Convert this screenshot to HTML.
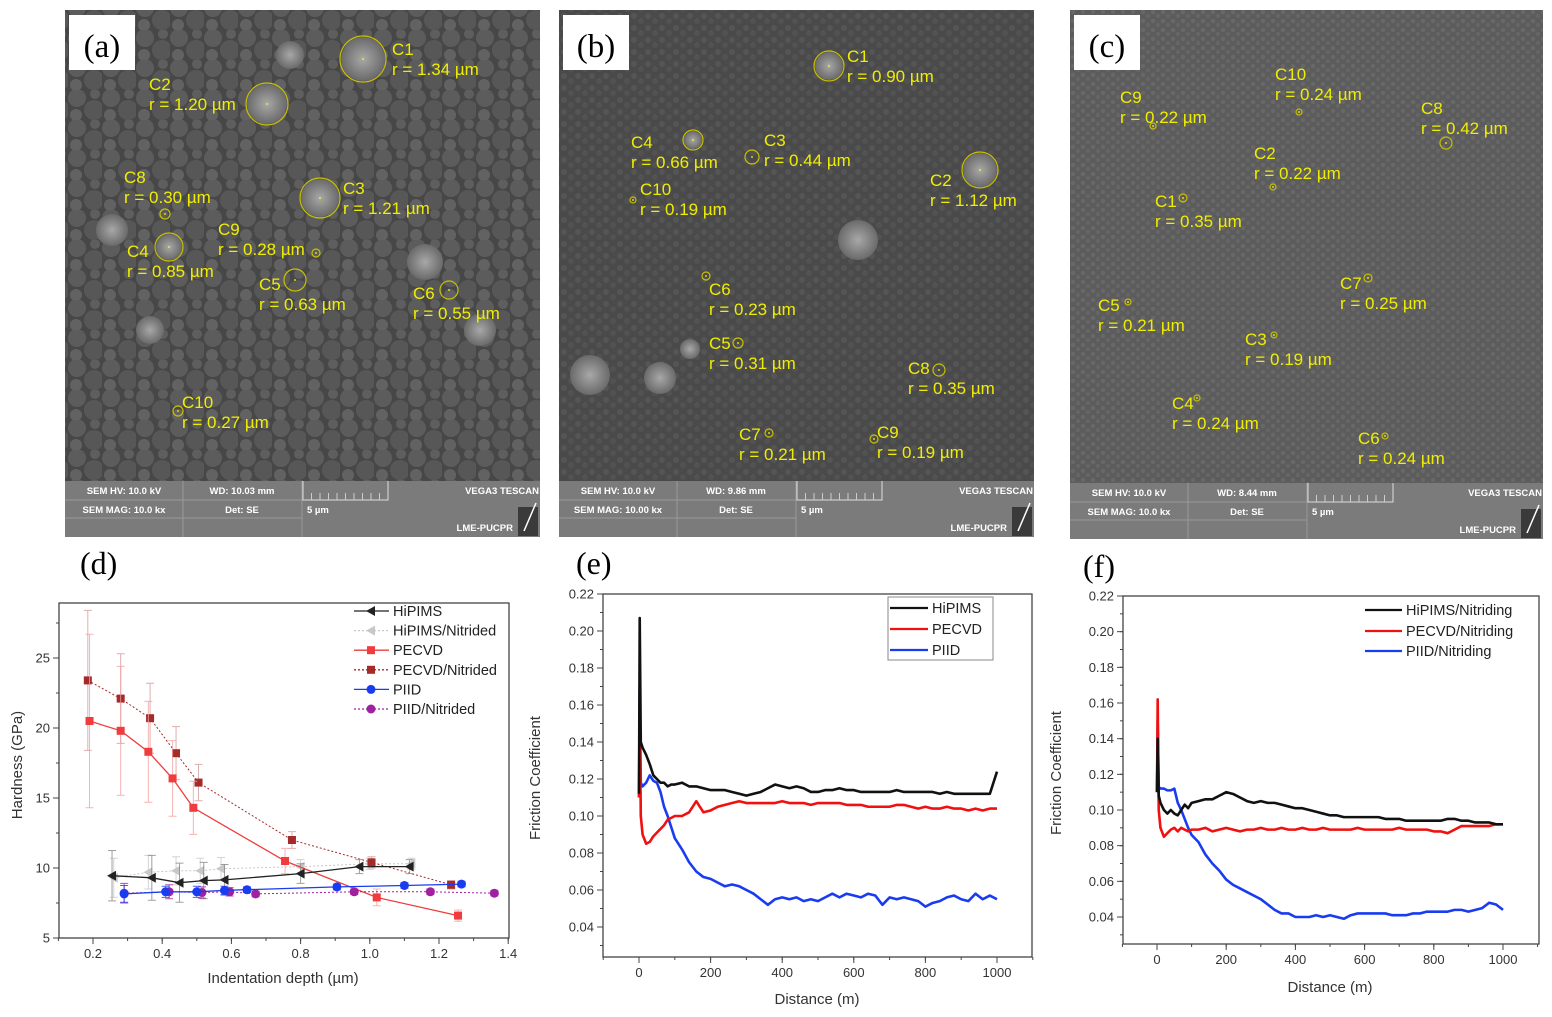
<!DOCTYPE html>
<html><head><meta charset="utf-8">
<style>
html,body{margin:0;padding:0;background:#fff;}
svg{display:block;font-family:"Liberation Sans",sans-serif;}
</style></head>
<body>
<svg id="fig" width="1552" height="1017" viewBox="0 0 1552 1017" xmlns="http://www.w3.org/2000/svg">
<defs>
<pattern id="texA" width="34" height="30" patternUnits="userSpaceOnUse">
<rect width="34" height="30" fill="#474747"/>
<circle cx="9" cy="8" r="9" fill="#5c5c5c"/><circle cx="26" cy="20" r="10" fill="#575757"/><circle cx="8" cy="25" r="6" fill="#626262"/><circle cx="27" cy="4" r="5" fill="#5e5e5e"/>
</pattern>
<pattern id="texB" width="14" height="12" patternUnits="userSpaceOnUse">
<rect width="14" height="12" fill="#4a4a4a"/><circle cx="4" cy="4" r="3" fill="#555"/><circle cx="11" cy="9" r="3" fill="#525252"/>
</pattern>
<pattern id="texC" width="10" height="9" patternUnits="userSpaceOnUse">
<rect width="10" height="9" fill="#5c5c5c"/><circle cx="3" cy="3" r="2.2" fill="#686868"/><circle cx="8" cy="7" r="2.2" fill="#656565"/>
</pattern>
<radialGradient id="sph"><stop offset="0" stop-color="#a8a8a8"/><stop offset="1" stop-color="#6a6a6a"/></radialGradient>
</defs>
<g id="sem"></g>
<g id="charts"></g>
</svg>
<script>
// ---------- chart data ----------
const hiDepth = [0.255,0.37,0.45,0.52,0.58,0.8,0.97,1.115];
const hiHard = [9.45,9.3,8.95,9.1,9.15,9.6,10.1,10.1];
const hiErr = [1.8,1.6,1.4,1.3,1.1,0.7,0.5,0.5];
const hinDepth = [0.26,0.36,0.44,0.51,0.57,0.8,1.0,1.12];
const hinHard = [9.3,9.7,9.8,9.8,9.95,10.1,10.3,10.3];
const hinErr = [1.4,1.2,1.0,0.9,0.8,0.5,0.4,0.4];
const peDepth = [0.19,0.28,0.36,0.43,0.49,0.755,1.02,1.255];
const peHard = [20.5,19.8,18.3,16.4,14.3,10.5,7.9,6.6];
const peErr = [6.2,4.6,3.6,2.7,1.9,0.9,0.6,0.4];
const penDepth = [0.185,0.28,0.365,0.44,0.505,0.775,1.005,1.235];
const penHard = [23.4,22.1,20.7,18.2,16.1,12.0,10.4,8.8];
const penErr = [5.0,3.2,2.5,1.9,1.3,0.6,0.4,0.3];
const piDepth = [0.29,0.41,0.50,0.58,0.645,0.905,1.10,1.265];
const piHard = [8.15,8.3,8.3,8.4,8.45,8.65,8.75,8.85];
const piErr = [0.6,0.4,0.4,0.3,0.2,0.2,0.2,0.2];
const pinDepth = [0.29,0.42,0.515,0.595,0.67,0.955,1.175,1.36];
const pinHard = [8.2,8.3,8.25,8.3,8.15,8.3,8.3,8.2];
const pinErr = [0.7,0.5,0.4,0.3,0.2,0.2,0.2,0.2];
const hardTicksX = [0.2,0.4,0.6,0.8,1.0,1.2,1.4];
const hardTickLabelsX = ["0.2","0.4","0.6","0.8","1.0","1.2","1.4"];
const hardTicksY = [5,10,15,20,25];

const dist = [0,2,5,10,20,30,40,50,60,70,80,90,100,120,140,160,180,200,220,240,260,280,300,320,340,360,380,400,420,440,460,480,500,520,540,560,580,600,620,640,660,680,700,720,740,760,780,800,820,840,860,880,900,920,940,960,980,1000];
const eHipims = [0.112,0.207,0.14,0.137,0.133,0.128,0.122,0.12,0.118,0.118,0.116,0.117,0.117,.118,.116,.116,.115,.114,.114,.114,.113,.112,.111,.112,.113,.115,.117,.116,.115,.116,.115,.113,.113,.114,.114,.115,.114,.114,.113,.113,.113,.113,.113,.114,.113,.113,.113,.113,.113,.112,.113,.112,.112,.112,.112,.112,.112,.124];
const ePecvd = [0.11,0.16,0.1,0.09,0.085,0.086,0.089,0.091,0.093,0.095,0.098,0.099,0.1,.1,.102,.108,.102,.103,.105,.106,.107,.108,.107,.107,.107,.107,.107,.108,.107,.107,.107,.106,.107,.107,.107,.107,.106,.106,.106,.105,.105,.105,.105,.106,.106,.105,.104,.105,.104,.104,.105,.104,.104,.103,.104,.103,.104,.104];
const ePiid = [0.11,0.17,0.118,0.116,0.118,0.122,0.119,0.118,0.113,0.105,0.1,0.094,0.088,.082,.075,.07,.067,.066,.064,.062,.063,.062,.06,.058,.055,.052,.055,.056,.055,.056,.054,.055,.054,.056,.058,.056,.058,.057,.056,.058,.057,.052,.056,.055,.056,.055,.054,.051,.053,.054,.056,.057,.055,.054,.058,.055,.057,.055];
const fHipims = [0.11,0.14,0.108,0.104,0.1,0.098,0.1,0.098,0.097,0.1,0.103,0.101,0.104,.105,.106,.106,.108,.11,.109,.107,.105,.104,.105,.104,.104,.103,.102,.101,.101,.1,.099,.098,.097,.097,.096,.096,.096,.096,.096,.096,.095,.095,.095,.094,.094,.094,.094,.094,.094,.095,.095,.094,.094,.093,.093,.093,.092,.092];
const fPecvd = [0.11,0.162,0.1,0.09,0.085,0.087,0.089,0.09,0.088,0.09,0.089,0.088,0.089,.089,.09,.088,.089,.09,.089,.088,.089,.089,.09,.089,.089,.09,.089,.089,.09,.089,.089,.09,.089,.089,.089,.089,.09,.089,.089,.089,.089,.089,.09,.089,.089,.089,.089,.088,.088,.087,.089,.091,.091,.091,.091,.091,.092,.092];
const fPiid = [0.11,0.15,0.113,0.112,0.112,0.111,0.111,0.112,0.104,0.1,0.095,0.09,0.086,.082,.075,.07,.066,.061,.058,.056,.054,.052,.05,.047,.044,.042,.042,.04,.04,.04,.041,.04,.041,.04,.039,.041,.042,.042,.042,.042,.042,.041,.041,.041,.042,.042,.043,.043,.043,.043,.044,.044,.043,.044,.045,.048,.047,.044];
const fricTicksX = [0,200,400,600,800,1000];
const fricTicksY = [0.04,0.06,0.08,0.10,0.12,0.14,0.16,0.18,0.20,0.22];
const fricTickLabelsY = ["0.04","0.06","0.08","0.10","0.12","0.14","0.16","0.18","0.20","0.22"];

const NS = "http://www.w3.org/2000/svg";
function mk(parent, tag, attrs, txt){
  const e = document.createElementNS(NS, tag);
  for (const k in attrs) e.setAttribute(k, attrs[k]);
  if (txt !== undefined) e.textContent = txt;
  parent.appendChild(e);
  return e;
}

// ---------- SEM panels ----------
const sem = document.getElementById('sem');
const panels = [
  {id:'a', x:65, y:10, w:475, h:471, tex:'texA', bar:56, mag:'SEM MAG: 10.0 kx', wd:'WD: 10.03 mm'},
  {id:'b', x:559, y:10, w:475, h:471, tex:'texB', bar:56, mag:'SEM MAG: 10.00 kx', wd:'WD: 9.86 mm'},
  {id:'c', x:1070, y:10, w:473, h:473, tex:'texC', bar:56, mag:'SEM MAG: 10.0 kx', wd:'WD: 8.44 mm'}
];
const annA = [[363,59,23,392,49,"C1","1.34"],[267,104,21,149,84,"C2","1.20"],[320,198,20,343,188,"C3","1.21"],[165,214,5,124,177,"C8","0.30"],[169,247,14,127,251,"C4","0.85"],[316,253,4,218,229,"C9","0.28"],[295,280,11,259,284,"C5","0.63"],[449,290,9,413,293,"C6","0.55"],[178,411,5,182,402,"C10","0.27"]];
const annB = [[829,66,15,847,56,"C1","0.90"],[693,140,10,631,142,"C4","0.66"],[752,157,7,764,140,"C3","0.44"],[633,200,3,640,189,"C10","0.19"],[980,170,18,930,180,"C2","1.12"],[706,276,4,709,289,"C6","0.23"],[738,343,5,709,343,"C5","0.31"],[939,370,6,908,368,"C8","0.35"],[769,433,4,739,434,"C7","0.21"],[874,439,4,877,432,"C9","0.19"]];
const annC = [[1153,126,3,1120,97,"C9","0.22"],[1299,112,3,1275,74,"C10","0.24"],[1446,143,6,1421,108,"C8","0.42"],[1273,187,3,1254,153,"C2","0.22"],[1183,198,4,1155,201,"C1","0.35"],[1128,302,3,1098,305,"C5","0.21"],[1368,278,4,1340,283,"C7","0.25"],[1274,335,3,1245,339,"C3","0.19"],[1197,398,3,1172,403,"C4","0.24"],[1385,436,3,1358,438,"C6","0.24"]];
const anns = {a:annA, b:annB, c:annC};
const spheresA = [[363,59,22],[267,104,20],[320,198,19],[169,247,13],[112,230,16],[425,262,18],[290,55,14],[480,330,16],[150,330,14]];
const spheresB = [[829,66,14],[980,170,17],[858,240,20],[590,375,20],[660,378,16],[690,349,10],[693,140,9]];
const spheres = {a:spheresA, b:spheresB, c:[]};

panels.forEach(p => {
  const g = mk(sem, 'g', {});
  
  
  mk(g, 'rect', {x:p.x, y:p.y, width:p.w, height:p.h, fill:'url(#'+p.tex+')'});
  spheres[p.id].forEach(s => { mk(g,'circle',{cx:s[0],cy:s[1],r:s[2],fill:'url(#sph)'}); });
  anns[p.id].forEach(a => {
    const ag = mk(g, 'g', {});
    
    
    mk(ag,'circle',{cx:a[0],cy:a[1],r:a[2],fill:'none',stroke:'#c8c000','stroke-width':1.2});
    mk(ag,'circle',{cx:a[0],cy:a[1],r:0.9,fill:'#ffff00'});
    mk(ag,'text',{x:a[3],y:a[4]+6,fill:'#f0ee00','font-size':17},a[5]);
    mk(ag,'text',{x:a[3],y:a[4]+26,fill:'#f0ee00','font-size':17},'r = '+a[6]+' µm');
  });
  // label box
  const lb = mk(g,'g',{});
  
  
  mk(lb,'rect',{x:p.x+4,y:p.y+5,width:66,height:55,fill:'#fff'});
  mk(lb,'text',{x:p.x+37,y:p.y+47,'text-anchor':'middle','font-family':'"Liberation Serif",serif','font-size':33,fill:'#000'},'('+p.id+')');
  // info bar
  const by = p.y + p.h, bh = p.bar, x = p.x, w = p.w;
  const ib = mk(g,'g',{});
  
  
  mk(ib,'rect',{x:x,y:by,width:w,height:bh,fill:'#7b7b7b'});
  const c1 = x+118, c2 = x+237, r1 = by+19, r2 = by+37;
  mk(ib,'line',{x1:c1,y1:by,x2:c1,y2:by+bh,stroke:'#9a9a9a'});
  mk(ib,'line',{x1:c2,y1:by,x2:c2,y2:by+bh,stroke:'#9a9a9a'});
  mk(ib,'line',{x1:x,y1:r1,x2:c2,y2:r1,stroke:'#9a9a9a'});
  mk(ib,'line',{x1:x,y1:r2,x2:c2,y2:r2,stroke:'#9a9a9a'});
  mk(ib,'path',{d:`M${c2+1} ${by} V${r1} H${c2+86} V${by}`,fill:'none',stroke:'#ddd'});
  for(let i=1;i<10;i++) mk(ib,'line',{x1:c2+1+i*8.5,y1:r1-7,x2:c2+1+i*8.5,y2:r1,stroke:'#ccc'});
  const ts = {fill:'#fff','font-size':9.5,'font-weight':'bold'};
  mk(ib,'text',Object.assign({x:x+59,y:by+13,'text-anchor':'middle'},ts),'SEM HV: 10.0 kV');
  mk(ib,'text',Object.assign({x:x+59,y:by+32,'text-anchor':'middle'},ts),p.mag);
  mk(ib,'text',Object.assign({x:x+177,y:by+13,'text-anchor':'middle'},ts),p.wd);
  mk(ib,'text',Object.assign({x:x+177,y:by+32,'text-anchor':'middle'},ts),'Det: SE');
  mk(ib,'text',Object.assign({x:c2+5,y:by+32},ts),'5 µm');
  mk(ib,'text',Object.assign({x:x+w-1,y:by+13,'text-anchor':'end'},ts),'VEGA3 TESCAN');
  mk(ib,'text',Object.assign({x:x+w-27,y:by+50,'text-anchor':'end'},ts),'LME-PUCPR');
  mk(ib,'rect',{x:x+w-22,y:by+26,width:20,height:29,fill:'#3a3a3a'});
  mk(ib,'line',{x1:x+w-16,y1:by+50,x2:x+w-4,y2:by+22,stroke:'#fff','stroke-width':1.5});
});

// ---------- charts ----------
const ch = document.getElementById('charts');
[['d',80,562],['e',576,562],['f',1083,565]].forEach(l => {
  const t = mk(ch,'text',{x:l[1],y:l[2]+12,'font-family':'"Liberation Serif",serif','font-size':32,fill:'#000'},'('+l[0]+')');
  
  
});

function axesFrame(g, L, T, R, B, sx, sy, xt, xtl, yt, ytl, xminor, yminor, xMin, xMax, yMin, yMax){
  mk(g,'rect',{x:L,y:T,width:R-L,height:B-T,fill:'none',stroke:'#444','stroke-width':1.3});
  const tg = {fill:'#333','font-size':13};
  xt.forEach((v,i)=>{
    mk(g,'line',{x1:sx(v),y1:B,x2:sx(v),y2:B+6,stroke:'#444'});
    const t = mk(g,'text',Object.assign({x:sx(v),y:B+20,'text-anchor':'middle'},tg),xtl[i]);
    
    
  });
  for(let v=xMin; v<=xMax+1e-9; v+=xminor){ mk(g,'line',{x1:sx(v),y1:B,x2:sx(v),y2:B+3,stroke:'#444'}); }
  yt.forEach((v,i)=>{
    mk(g,'line',{x1:L-6,y1:sy(v),x2:L,y2:sy(v),stroke:'#444'});
    const t = mk(g,'text',Object.assign({x:L-9,y:sy(v)+4.5,'text-anchor':'end'},tg),ytl[i]);
    
    
  });
  for(let v=yMin; v<=yMax+1e-9; v+=yminor){ mk(g,'line',{x1:L-3,y1:sy(v),x2:L,y2:sy(v),stroke:'#444'}); }
}
function axisTitles(g, xt, xx, xy, yt, yx, yy){
  const a = mk(g,'text',{x:xx,y:xy,'text-anchor':'middle','font-size':15,fill:'#333'},xt);
  
  
  const b = mk(g,'text',{x:yx,y:yy,'text-anchor':'middle','font-size':15,fill:'#333',transform:`rotate(-90 ${yx} ${yy})`},yt);
  
  
}

// chart d
(function(){
  const g = mk(ch,'g',{});
  
  
  const sx = v => 93 + (v-0.2)*346/1.0*1.0;
  const sy = v => 938 - (v-5)*14;
  axesFrame(g,59,603,509,938,sx,sy,hardTicksX,hardTickLabelsX,hardTicksY,hardTicksY.map(String),0.1,2.5,0.1,1.4,5,28.5);
  axisTitles(g,'Indentation depth (µm)',283,983,'Hardness (GPa)',22,765);
  const series = [
    {n:'hipims-nitrided',x:hinDepth,y:hinHard,e:hinErr,c:'#c8c8c8',dash:'2,2',m:'tri'},
    {n:'pecvd-nitrided',x:penDepth,y:penHard,e:penErr,c:'#a52a2a',dash:'2,2',m:'sq',ec:'#d49a9a'},
    {n:'pecvd',x:peDepth,y:peHard,e:peErr,c:'#f03c3c',dash:'',m:'sq',ec:'#f4a0a0'},
    {n:'hipims',x:hiDepth,y:hiHard,e:hiErr,c:'#222',dash:'',m:'tri',ec:'#888'},
    {n:'piid-nitrided',x:pinDepth,y:pinHard,e:pinErr,c:'#a020a0',dash:'2,2',m:'dot'},
    {n:'piid',x:piDepth,y:piHard,e:piErr,c:'#1a3cf0',dash:'',m:'dot'}
  ];
  series.forEach(s=>{
    const sg = mk(g,'g',{});
    
    
    s.x.forEach((v,i)=>{
      const X=sx(v), y1=sy(s.y[i]-s.e[i]), y2=sy(s.y[i]+s.e[i]);
      const ec = s.ec||s.c;
      mk(sg,'path',{d:`M${X} ${y1}V${y2}M${X-4} ${y1}H${X+4}M${X-4} ${y2}H${X+4}`,stroke:ec,'stroke-width':1,fill:'none',opacity:0.8});
    });
    mk(sg,'polyline',{points:s.x.map((v,i)=>sx(v)+','+sy(s.y[i])).join(' '),fill:'none',stroke:s.c,'stroke-width':s.dash?1:1.3,'stroke-dasharray':s.dash});
    s.x.forEach((v,i)=>{
      const X=sx(v),Y=sy(s.y[i]);
      let m;
      if(s.m==='sq') m = mk(sg,'rect',{x:X-4,y:Y-4,width:8,height:8,fill:s.c});
      else if(s.m==='dot') m = mk(sg,'circle',{cx:X,cy:Y,r:4.5,fill:s.c});
      else m = mk(sg,'path',{d:`M${X-5} ${Y}L${X+4} ${Y-5}L${X+4} ${Y+5}Z`,fill:s.c});
      
      
    });
  });
  const leg = [['HiPIMS','#222','','tri'],['HiPIMS/Nitrided','#c8c8c8','2,2','tri'],['PECVD','#f03c3c','','sq'],['PECVD/Nitrided','#a52a2a','2,2','sq'],['PIID','#1a3cf0','','dot'],['PIID/Nitrided','#a020a0','2,2','dot']];
  leg.forEach((l,i)=>{
    const y = 611 + i*19.6;
    const lg = mk(g,'g',{});
    
    
    mk(lg,'line',{x1:354,y1:y,x2:389,y2:y,stroke:l[1],'stroke-width':1.3,'stroke-dasharray':l[2]});
    if(l[3]==='sq') mk(lg,'rect',{x:367,y:y-4,width:8,height:8,fill:l[1]});
    else if(l[3]==='dot') mk(lg,'circle',{cx:371,cy:y,r:4.5,fill:l[1]});
    else mk(lg,'path',{d:`M${366} ${y}L${375} ${y-5}L${375} ${y+5}Z`,fill:l[1]});
    mk(lg,'text',{x:393,y:y+5,'font-size':14.5,fill:'#222'},l[0]);
  });
})();

function fricChart(name, L,T,R,B, x0px,x1000px, y22px, y04px, series, legend, legendBox){
  const g = mk(ch,'g',{});
  
  
  const sx = v => x0px + v*(x1000px-x0px)/1000;
  const sy = v => y04px - (v-0.04)*(y04px-y22px)/0.18;
  const yMin = 0.04 - (B-y04px)/((y04px-y22px)/0.18);
  axesFrame(g,L,T,R,B,sx,sy,fricTicksX,fricTicksX.map(String),fricTicksY,fricTickLabelsY,100,0.01,-100,1100,0.03,0.22);
  series.forEach(s=>{
    const p = mk(g,'polyline',{points:dist.map((d,i)=>sx(d)+','+sy(s.v[i])).join(' '),fill:'none',stroke:s.c,'stroke-width':2.6,'stroke-linejoin':'round'});
    
    
  });
  if(legendBox) mk(g,'rect',{x:legendBox[0],y:legendBox[1],width:legendBox[2],height:legendBox[3],fill:'#fff',stroke:'#888'});
  legend.forEach(l=>{
    const lg = mk(g,'g',{});
    
    
    mk(lg,'line',{x1:l[2],y1:l[4],x2:l[3],y2:l[4],stroke:l[1],'stroke-width':2.2});
    mk(lg,'text',{x:l[3]+4,y:l[4]+5,'font-size':14.5,fill:'#222'},l[0]);
  });
  return g;
}
const ge = fricChart('friction-chart-e',603,594,1032,957,639,997,594,927,
  [{n:'piid',v:ePiid,c:'#1a3cf0'},{n:'pecvd',v:ePecvd,c:'#f01010'},{n:'hipims',v:eHipims,c:'#111'}],
  [['HiPIMS','#111',890,928,608],['PECVD','#f01010',890,928,629],['PIID','#1a3cf0',890,928,650]],[888,597,105,63]);
axisTitles(ge,'Distance (m)',817,1004,'Friction Coefficient',540,778);
const gf = fricChart('friction-chart-f',1123,596,1539,944,1157,1503,596,917,
  [{n:'piid-nitriding',v:fPiid,c:'#1a3cf0'},{n:'pecvd-nitriding',v:fPecvd,c:'#f01010'},{n:'hipims-nitriding',v:fHipims,c:'#111'}],
  [['HiPIMS/Nitriding','#111',1365,1402,610],['PECVD/Nitriding','#f01010',1365,1402,631],['PIID/Nitriding','#1a3cf0',1365,1402,651]],null);
axisTitles(gf,'Distance (m)',1330,992,'Friction Coefficient',1061,773);
</script>
</body></html>
